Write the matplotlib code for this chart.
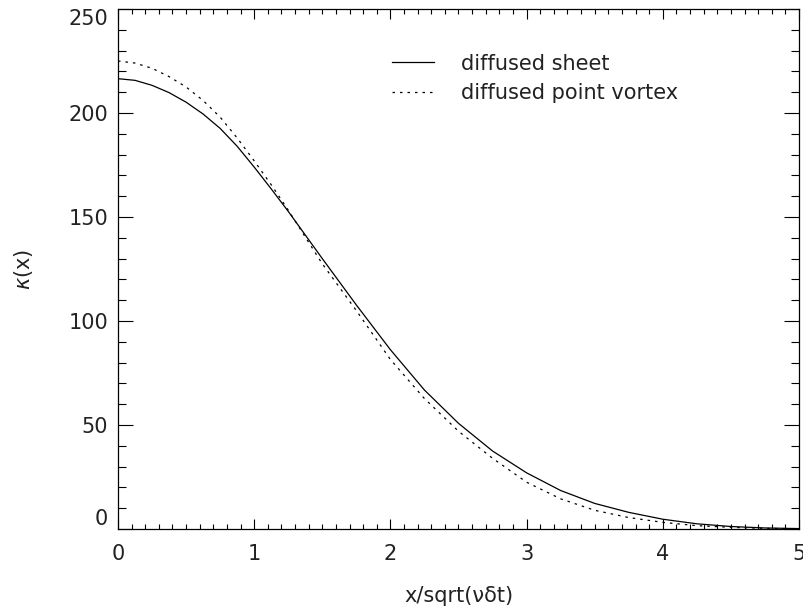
import matplotlib.pyplot as plt
from matplotlib.ticker import MultipleLocator

# values
x = [0, 0.125, 0.25, 0.375, 0.5, 0.625, 0.75, 0.875, 1.0, 1.125, 1.25, 1.5, 1.75,
     2.0, 2.25, 2.5, 2.75, 3.0, 3.25, 3.5, 3.75, 4.0, 4.25, 4.5, 4.75, 5.0]
sheet = [216.5, 215.7, 213.3, 209.8, 205.2, 199.5, 192.6, 184, 174, 163.5, 152.7, 130, 107.7,
         86.2, 66.8, 50.8, 37.5, 27, 18.5, 12.3, 8, 4.7, 2.5, 1.2, 0.5, 0.2]
point_vortex = [225, 224, 221.5, 217.5, 212.5, 206, 198, 188, 177, 165.5, 153.3, 127.5, 105,
                81.5, 62.7, 47, 34, 22.5, 14.5, 9, 5.5, 3.2, 1.6, 0.8, 0.3, 0.1]
labels = ['diffused sheet', 'diffused point vortex']

fig = plt.figure(figsize=(8.04, 6.10), dpi=100)
ax = fig.add_axes([118/804, 1 - 529/610, (799-118)/804, (529-9)/610])

ax.plot(x, sheet, color='black', lw=0.9, label=labels[0])
ax.plot(x, point_vortex, color='black', lw=0.9, linestyle=(0, (2, 4)), label=labels[1])

ax.set_xlim(0, 5)
ax.set_ylim(0, 250)
ax.xaxis.set_major_locator(MultipleLocator(1))
ax.xaxis.set_minor_locator(MultipleLocator(0.1))
ax.yaxis.set_major_locator(MultipleLocator(50))
ax.yaxis.set_minor_locator(MultipleLocator(10))

ax.tick_params(axis='both', which='both', direction='in', top=True, right=True,
               width=0.8, labelsize=15, labelcolor='#222222')
ax.tick_params(axis='x', which='major', length=7.2, pad=11)
ax.tick_params(axis='x', which='minor', length=3.6)
ax.tick_params(axis='y', which='major', length=10.8, pad=7)
ax.tick_params(axis='y', which='minor', length=5.8)
for s in ax.spines.values():
    s.set_linewidth(0.9)

ax.set_xlabel('x/sqrt(νδt)', fontsize=15, labelpad=16, color='#222222')
ax.set_ylabel(r'$\kappa$(x)', fontsize=15, labelpad=24, color='#222222')

leg = ax.legend(loc='upper left', bbox_to_anchor=(0.375, 0.95), frameon=False,
                fontsize=15, handlelength=2.0, handletextpad=1.3, labelspacing=0.45)
for t in leg.get_texts():
    t.set_color('#222222')

# IDL-style: end labels nudged inside the axis range
fig.canvas.draw()
for t in ax.get_yticklabels():
    if t.get_text() == '0':
        t.set_va('bottom')
    elif t.get_text() == '250':
        t.set_va('top')

fig.savefig('out.png', dpi=100)
